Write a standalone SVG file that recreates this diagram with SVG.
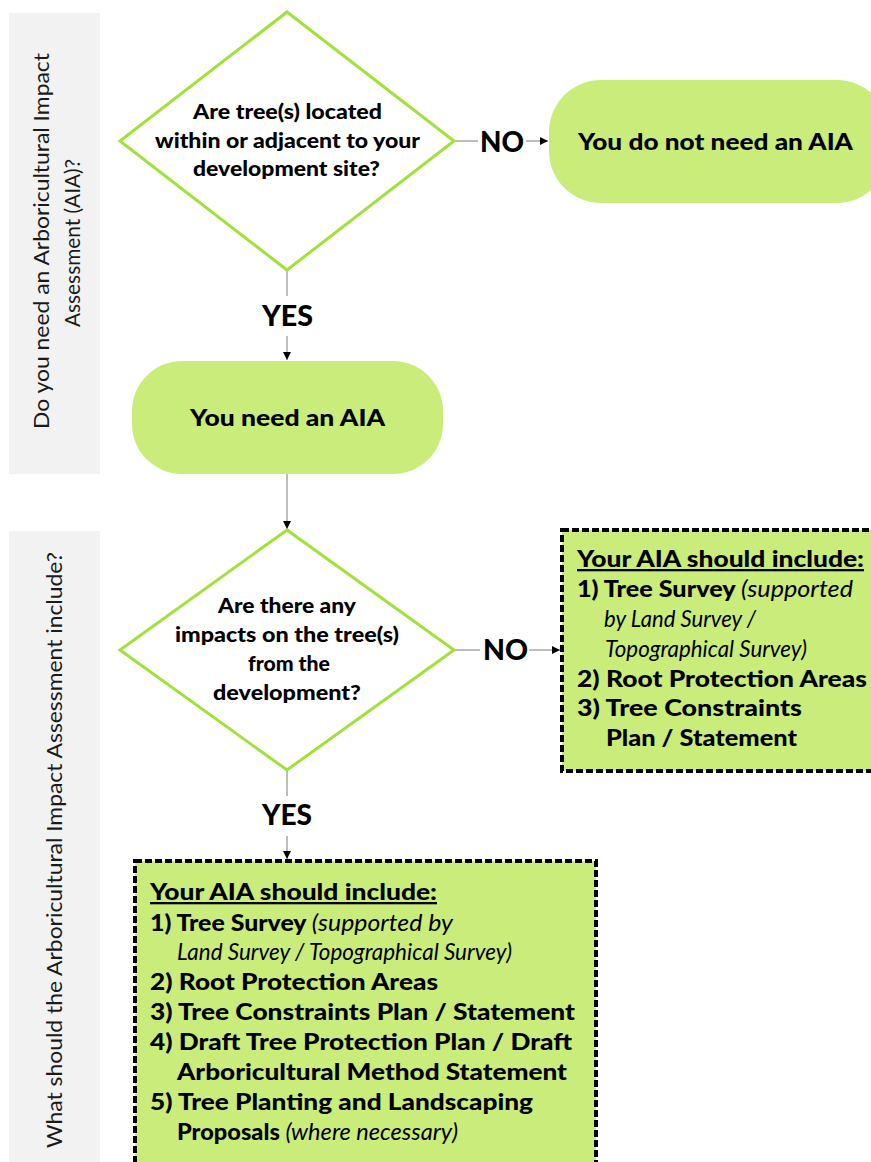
<svg xmlns="http://www.w3.org/2000/svg" width="871" height="1162" viewBox="0 0 871 1162">
  <defs>
    <marker id="arr" viewBox="0 0 10 10" refX="10" refY="5" markerWidth="8" markerHeight="8" markerUnits="userSpaceOnUse" orient="auto">
      <path d="M0,0 L10,5 L0,10 z" fill="#000"/>
    </marker>
    <style>
      .band { fill: #f2f2f2; }
      .bandtxt { font-family: Lato, "Open Sans", sans-serif; font-size: 21px; fill: #1a1a1a; }
      .dia { fill: #fff; stroke: #a2e03a; stroke-width: 3; }
      .term { fill: #c9ec7a; }
      .dash { fill: #c9ec7a; stroke: #000; stroke-width: 4; stroke-dasharray: 7 3; }
      .b { font-family: Lato, "Liberation Sans", sans-serif; font-weight: 900; fill: #000; }
      .dt { font-size: 20px; text-anchor: middle; }
      .tt { font-size: 23px; text-anchor: middle; }
      .lbl { font-size: 29px; text-anchor: middle; }
      .bx { font-size: 23px; }
      .it { font-weight: 400; font-style: italic; }
      .conn { stroke: #9a9a9a; stroke-width: 1.3; fill: none; }
    </style>
  </defs>

  <g id="band1">
    <rect class="band" x="9" y="13" width="91" height="461"/>
    <text class="bandtxt" transform="translate(49,241) rotate(-90)" text-anchor="middle" textLength="376" lengthAdjust="spacingAndGlyphs">Do you need an Arboricultural Impact</text>
    <text class="bandtxt" transform="translate(80,243) rotate(-90)" text-anchor="middle" textLength="168" lengthAdjust="spacingAndGlyphs">Assessment (AIA)?</text>
  </g>
  <g id="band2">
    <rect class="band" x="9" y="531" width="91" height="640"/>
    <text class="bandtxt" transform="translate(62,850) rotate(-90)" text-anchor="middle" textLength="596" lengthAdjust="spacingAndGlyphs">What should the Arboricultural Impact Assessment include?</text>
  </g>

  <g id="connectors">
    <line class="conn" x1="454" y1="141" x2="478" y2="141"/>
    <line class="conn" x1="526" y1="141" x2="548" y2="141" marker-end="url(#arr)"/>
    <line class="conn" x1="287" y1="270" x2="287" y2="296"/>
    <line class="conn" x1="287" y1="336" x2="287" y2="360" marker-end="url(#arr)"/>
    <line class="conn" x1="287" y1="474" x2="287" y2="529" marker-end="url(#arr)"/>
    <line class="conn" x1="454" y1="650" x2="480" y2="650"/>
    <line class="conn" x1="529" y1="650" x2="560" y2="650" marker-end="url(#arr)"/>
    <line class="conn" x1="287" y1="770" x2="287" y2="796"/>
    <line class="conn" x1="287" y1="836" x2="287" y2="859" marker-end="url(#arr)"/>
    <text class="b lbl" x="502" y="152" textLength="44" lengthAdjust="spacingAndGlyphs">NO</text>
    <text class="b lbl" x="287.5" y="326" textLength="51" lengthAdjust="spacingAndGlyphs">YES</text>
    <text class="b lbl" x="505.5" y="660" textLength="45" lengthAdjust="spacingAndGlyphs">NO</text>
    <text class="b lbl" x="287" y="825" textLength="50" lengthAdjust="spacingAndGlyphs">YES</text>
  </g>

  <g id="q1">
    <polygon class="dia" points="287,12 454,141 287,270 120,141"/>
    <text class="b dt" x="287.5" y="119" textLength="189" lengthAdjust="spacingAndGlyphs">Are tree(s) located</text>
    <text class="b dt" x="287.5" y="148" textLength="265" lengthAdjust="spacingAndGlyphs">within or adjacent to your</text>
    <text class="b dt" x="286.5" y="176" textLength="187" lengthAdjust="spacingAndGlyphs">development site?</text>
  </g>

  <g id="noaia">
    <rect class="term" x="549" y="80" width="340" height="123" rx="52" ry="52"/>
    <text class="b tt" x="715.5" y="150" textLength="275" lengthAdjust="spacingAndGlyphs">You do not need an AIA</text>
  </g>

  <g id="needaia">
    <rect class="term" x="132" y="361" width="311" height="113" rx="50" ry="50"/>
    <text class="b tt" x="287.5" y="426" textLength="195" lengthAdjust="spacingAndGlyphs">You need an AIA</text>
  </g>

  <g id="q2">
    <polygon class="dia" points="287,530 454,650 287,770 120,650"/>
    <text class="b dt" x="287" y="613" textLength="138" lengthAdjust="spacingAndGlyphs">Are there any</text>
    <text class="b dt" x="287" y="642" textLength="224" lengthAdjust="spacingAndGlyphs">impacts on the tree(s)</text>
    <text class="b dt" x="289" y="671" textLength="82" lengthAdjust="spacingAndGlyphs">from the</text>
    <text class="b dt" x="287" y="700" textLength="148" lengthAdjust="spacingAndGlyphs">development?</text>
  </g>

  <g id="include-basic">
    <rect class="dash" x="562" y="530" width="330" height="241"/>
    <text class="b bx" x="577" y="567" text-decoration="underline" textLength="287" lengthAdjust="spacingAndGlyphs">Your AIA should include:</text>
    <text class="b bx" x="577" y="597" textLength="276" lengthAdjust="spacingAndGlyphs">1) Tree Survey <tspan class="it">(supported</tspan></text>
    <text class="b bx it" x="604" y="627" textLength="152" lengthAdjust="spacingAndGlyphs">by Land Survey /</text>
    <text class="b bx it" x="605" y="657" textLength="202" lengthAdjust="spacingAndGlyphs">Topographical Survey)</text>
    <text class="b bx" x="577" y="687" textLength="290" lengthAdjust="spacingAndGlyphs">2) Root Protection Areas</text>
    <text class="b bx" x="577" y="716" textLength="225" lengthAdjust="spacingAndGlyphs">3) Tree Constraints</text>
    <text class="b bx" x="606" y="746" textLength="191" lengthAdjust="spacingAndGlyphs">Plan / Statement</text>
  </g>

  <g id="include-full">
    <rect class="dash" x="135" y="861" width="461" height="320"/>
    <text class="b bx" x="150" y="900" text-decoration="underline" textLength="287" lengthAdjust="spacingAndGlyphs">Your AIA should include:</text>
    <text class="b bx" x="150" y="931" textLength="303" lengthAdjust="spacingAndGlyphs">1) Tree Survey <tspan class="it">(supported by</tspan></text>
    <text class="b bx it" x="177" y="960" textLength="335" lengthAdjust="spacingAndGlyphs">Land Survey / Topographical Survey)</text>
    <text class="b bx" x="150" y="990" textLength="288" lengthAdjust="spacingAndGlyphs">2) Root Protection Areas</text>
    <text class="b bx" x="150" y="1020" textLength="425" lengthAdjust="spacingAndGlyphs">3) Tree Constraints Plan / Statement</text>
    <text class="b bx" x="150" y="1050" textLength="422" lengthAdjust="spacingAndGlyphs">4) Draft Tree Protection Plan / Draft</text>
    <text class="b bx" x="177" y="1080" textLength="390" lengthAdjust="spacingAndGlyphs">Arboricultural Method Statement</text>
    <text class="b bx" x="150" y="1110" textLength="383" lengthAdjust="spacingAndGlyphs">5) Tree Planting and Landscaping</text>
    <text class="b bx" x="177" y="1140" textLength="281" lengthAdjust="spacingAndGlyphs">Proposals <tspan class="it">(where necessary)</tspan></text>
  </g>
</svg>
